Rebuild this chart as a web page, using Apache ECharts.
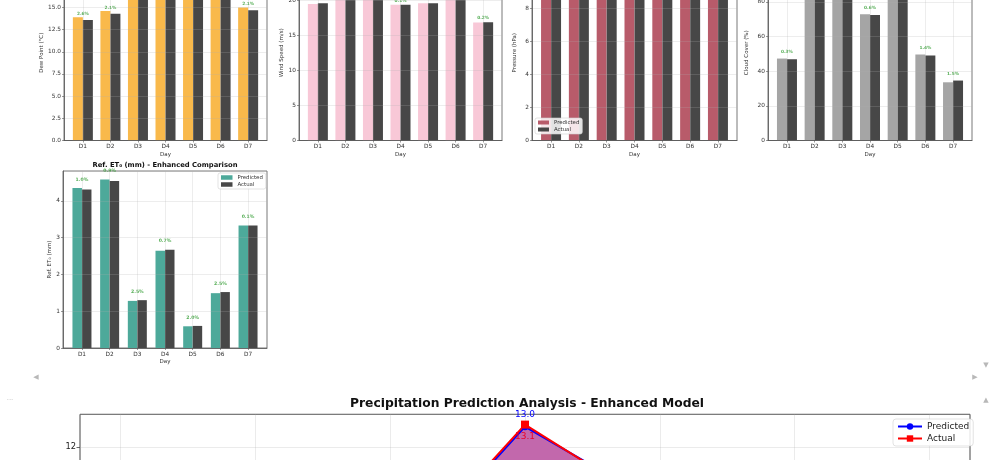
<!DOCTYPE html>
<html>
<head>
<meta charset="utf-8">
<script src="https://cdn.jsdelivr.net/npm/echarts@6/dist/echarts.min.js"></script>
<style>
html, body { margin: 0; padding: 0; background: #fff; }
#chart { width: 1000px; height: 460px; }
</style>
</head>
<body>
<div id="chart"></div>
<script>
const days = ["D1", "D2", "D3", "D4", "D5", "D6", "D7"];

const dewPred = [13.9, 14.6, 17.6, 18.0, 17.8, 18.2, 15.0];
const dewActual = [13.6, 14.3, 17.3, 17.8, 17.5, 17.9, 14.7];
const dewPct = ["2.6%", "2.1%", "1.7%", "1.1%", "1.7%", "1.7%", "2.1%"];

const windPred = [19.5, 21.6, 21.2, 19.4, 19.6, 22.0, 16.85];
const windActual = [19.6, 21.4, 21.0, 19.4, 19.6, 21.8, 16.9];
const windPct = ["0.5%", "0.9%", "1.0%", "0.1%", "0.0%", "0.9%", "0.2%"];

const presPred = [9.8, 9.9, 9.7, 9.9, 9.8, 9.7, 9.9];
const presActual = [9.8, 9.8, 9.7, 9.9, 9.8, 9.8, 9.9];
const presPct = ["0.1%", "0.1%", "0.0%", "0.1%", "0.0%", "0.1%", "0.0%"];

const cloudPred = [47.3, 88.0, 90.0, 72.9, 86.0, 49.6, 33.6];
const cloudActual = [46.9, 87.0, 89.0, 72.5, 85.0, 49.0, 34.6];
const cloudPct = ["0.3%", "1.1%", "1.1%", "0.6%", "1.2%", "1.4%", "1.5%"];

const etPred = [4.35, 4.58, 1.28, 2.64, 0.59, 1.49, 3.33];
const etActual = [4.31, 4.54, 1.30, 2.67, 0.60, 1.52, 3.33];
const etPct = ["1.0%", "0.9%", "2.5%", "0.7%", "2.0%", "2.5%", "0.1%"];

const rainPred = [2.1, 0.6, 5.8, 13.0, 9.2, 3.2, 1.0];
const rainActual = [2.2, 0.5, 5.9, 13.1, 9.0, 3.1, 1.1];

const FONT = "DejaVu Sans";
const dayIdx = days.map((d, i) => i);
const GRIDLINE = "rgba(176,176,176,0.32)";
const ACTUAL_COLOR = "#474747";

const panels = [
    { key: "dew", yName: "Dew Point (°C)", pred: dewPred, actual: dewActual, pct: dewPct,
      color: "#F9B94B", left: 64, top: -35, width: 203, height: 175.5,
      max: 19.79, interval: 2.5, dec: 1, yNameGap: 19, pctGap: 1.5, pctSize: 4.3, barW: 10 },
    { key: "wind", yName: "Wind Speed (m/s)", pred: windPred, actual: windActual, pct: windPct,
      color: "#F8C8D7", left: 299, top: -35, width: 203, height: 175.5,
      max: 25.07, interval: 5, dec: 0, yNameGap: 14.5, pctGap: 2, pctSize: 4.3, barW: 10 },
    { key: "pres", yName: "Pressure (hPa)", pred: presPred, actual: presActual, pct: presPct,
      color: "#B85B6A", left: 532, top: -35, width: 205, height: 175.5,
      max: 10.64, interval: 2, dec: 0, yNameGap: 12.5, pctGap: 2, pctSize: 4.3, barW: 10 },
    { key: "cloud", yName: "Cloud Cover (%)", pred: cloudPred, actual: cloudActual, pct: cloudPct,
      color: "#A5A5A5", left: 768, top: -35, width: 204, height: 175.5,
      max: 101.3, interval: 20, dec: 0, yNameGap: 16.3, pctGap: 4.5, pctSize: 4.3, barW: 10 },
    { key: "et", yName: "Ref. ET\u2080 (mm)", pred: etPred, actual: etActual, pct: etPct,
      color: "#4DA99A", left: 63, top: 171, width: 204, height: 177,
      max: 4.81, interval: 1, dec: 0, yNameGap: 9.6, pctGap: 6, pctSize: 4.6, barW: 9.5 }
];

const grids = [];
const xAxes = [];
const yAxes = [];
const series = [];

function smallText(size) {
    return { fontFamily: FONT, fontSize: size, color: "#333" };
}

function addPanel(p, gi) {

    grids.push({
        left: p.left, top: p.top, width: p.width, height: p.height,
        outerBoundsMode: "none",
        show: true, borderColor: "#555", borderWidth: 0.8
    });

    xAxes.push({
        gridIndex: gi, type: "value", min: -0.685, max: 6.685, z: 3,
        name: "Day", nameLocation: "middle", nameGap: 11,
        nameTextStyle: smallText(5.5),
        axisLine: { show: true, onZero: false, lineStyle: { color: "#555", width: 0.8 } },
        axisTick: { show: true, customValues: dayIdx, length: 2, lineStyle: { color: "#555", width: 0.6 } },
        axisLabel: Object.assign({ customValues: dayIdx, formatter: v => days[v], margin: 3 }, smallText(5.8)),
        splitLine: { show: true, lineStyle: { color: GRIDLINE, width: 0.7 } }
    });

    yAxes.push({
        gridIndex: gi, type: "value", min: 0, max: p.max, interval: p.interval, z: 3,
        name: p.yName, nameLocation: "middle", nameGap: p.yNameGap,
        nameTextStyle: smallText(5.5),
        axisLine: { show: true, onZero: false, lineStyle: { color: "#555", width: 0.8 } },
        axisTick: { show: true, length: 2, lineStyle: { color: "#555", width: 0.6 } },
        axisLabel: Object.assign({ formatter: v => v.toFixed(p.dec), margin: 3, showMaxLabel: false }, smallText(5.8)),
        splitLine: { show: true, lineStyle: { color: GRIDLINE, width: 0.7 } }
    });

    series.push({
        type: "bar", name: p.key + "|Predicted", xAxisIndex: gi, yAxisIndex: gi,
        data: dayIdx.map(i => [i, p.pred[i]]),
        barWidth: p.barW, barGap: "0%",
        itemStyle: { color: p.color }, silent: true
    });

    series.push({
        type: "bar", name: p.key + "|Actual", xAxisIndex: gi, yAxisIndex: gi,
        data: dayIdx.map(i => [i, p.actual[i]]),
        barWidth: p.barW, barGap: "0%",
        itemStyle: { color: ACTUAL_COLOR }, silent: true
    });

    // percent error labels sit above the taller bar of each pair
    series.push({
        type: "scatter", xAxisIndex: gi, yAxisIndex: gi, symbolSize: 0, silent: true,
        data: dayIdx.map(i => [i, Math.max(p.pred[i], p.actual[i])]),
        label: {
            show: true, position: "top", distance: p.pctGap,
            formatter: d => p.pct[d.dataIndex],
            fontFamily: FONT, fontSize: p.pctSize, fontWeight: "bold", color: "#2E9B2E"
        }
    });
}

panels.forEach((p, i) => addPanel(p, i));

// precipitation line chart
const rg = panels.length;

grids.push({
    left: 80, top: 414.3, width: 890, height: 280.2,
    outerBoundsMode: "none",
    show: true, borderColor: "#444", borderWidth: 1
});

xAxes.push({
    gridIndex: rg, type: "value", min: -0.3, max: 6.3,
    axisLine: { show: false, onZero: false },
    axisTick: { show: true, customValues: dayIdx },
    axisLabel: { customValues: dayIdx, formatter: v => days[v] },
    splitLine: { show: true, lineStyle: { color: "rgba(176,176,176,0.25)", width: 1 } }
});

yAxes.push({
    gridIndex: rg, type: "value", min: 0, max: 13.6, interval: 2,
    axisLine: { show: false, onZero: false },
    axisTick: { show: true, length: 3.5, lineStyle: { color: "#444", width: 0.8 } },
    axisLabel: { fontFamily: FONT, fontSize: 8.3, color: "#222", margin: 4, showMaxLabel: false },
    splitLine: { show: true, lineStyle: { color: "rgba(176,176,176,0.25)", width: 1 } }
});

series.push({
    type: "line", name: "rain|Predicted", xAxisIndex: rg, yAxisIndex: rg,
    data: dayIdx.map(i => [i, rainPred[i]]),
    symbol: "circle", symbolSize: 7, silent: true,
    lineStyle: { color: "#0000FF", width: 2 },
    itemStyle: { color: "#0000FF" },
    areaStyle: { color: "rgb(194,104,172)", opacity: 1 },
    label: {
        show: true, position: "top", distance: 4,
        formatter: d => d.value[1].toFixed(1),
        fontFamily: FONT, fontSize: 9, color: "#0000FF"
    }
});

series.push({
    type: "line", name: "rain|Actual", xAxisIndex: rg, yAxisIndex: rg,
    data: dayIdx.map(i => [i, rainActual[i]]),
    symbol: "rect", symbolSize: 8, silent: true,
    lineStyle: { color: "#FF0000", width: 2 },
    itemStyle: { color: "#FF0000" },
    label: {
        show: true, position: "bottom", distance: 4,
        formatter: d => d.value[1].toFixed(1),
        fontFamily: FONT, fontSize: 9, color: "#E8002A"
    }
});

const legendBox = {
    orient: "vertical",
    backgroundColor: "rgba(255,255,255,0.85)",
    borderColor: "#d0d0d0", borderWidth: 0.6, borderRadius: 2,
    formatter: name => name.split("|")[1]
};

const legends = [
    Object.assign({}, legendBox, {
        data: ["pres|Predicted", "pres|Actual"],
        left: 535, top: 118, padding: [2, 3], icon: "rect",
        itemWidth: 11, itemHeight: 4, itemGap: 2,
        textStyle: smallText(5.4)
    }),
    Object.assign({}, legendBox, {
        data: ["et|Predicted", "et|Actual"],
        left: 218, top: 173, padding: [2, 3], icon: "rect",
        itemWidth: 11.5, itemHeight: 4.5, itemGap: 2,
        textStyle: smallText(5.4)
    }),
    Object.assign({}, legendBox, {
        data: ["rain|Predicted", "rain|Actual"],
        left: 893, top: 419, padding: [3, 4],
        itemWidth: 24, itemHeight: 8, itemGap: 3,
        borderRadius: 3,
        textStyle: { fontFamily: FONT, fontSize: 9, color: "#222" }
    })
];

const titles = [
    {
        text: "Ref. ET\u2080 (mm) - Enhanced Comparison",
        left: 165, top: 162, textAlign: "center", padding: 0,
        textStyle: { fontFamily: FONT, fontSize: 6.8, fontWeight: "bold", color: "#111" }
    },
    {
        text: "Precipitation Prediction Analysis - Enhanced Model",
        left: 527, top: 398, textAlign: "center", padding: 0,
        textStyle: { fontFamily: FONT, fontSize: 12.3, fontWeight: "bold", color: "#111" }
    }
];

// notebook widget glyphs around the output
const uiMarks = [
    { text: "\u25C0", x: 36, y: 377 },
    { text: "\u25B6", x: 975, y: 377 },
    { text: "\u25BC", x: 986, y: 365 },
    { text: "\u25B2", x: 986, y: 400 },
    { text: "...", x: 10, y: 398 }
];

const chart = echarts.init(document.getElementById("chart"));

chart.setOption({
    animation: false,
    title: titles,
    legend: legends,
    grid: grids,
    xAxis: xAxes,
    yAxis: yAxes,
    series: series,
    graphic: uiMarks.map(m => ({
        type: "text", x: m.x, y: m.y, silent: true,
        style: { text: m.text, fill: "#b8b8b8", font: "7px " + FONT, align: "center", verticalAlign: "middle" }
    }))
});
</script>
</body>
</html>
